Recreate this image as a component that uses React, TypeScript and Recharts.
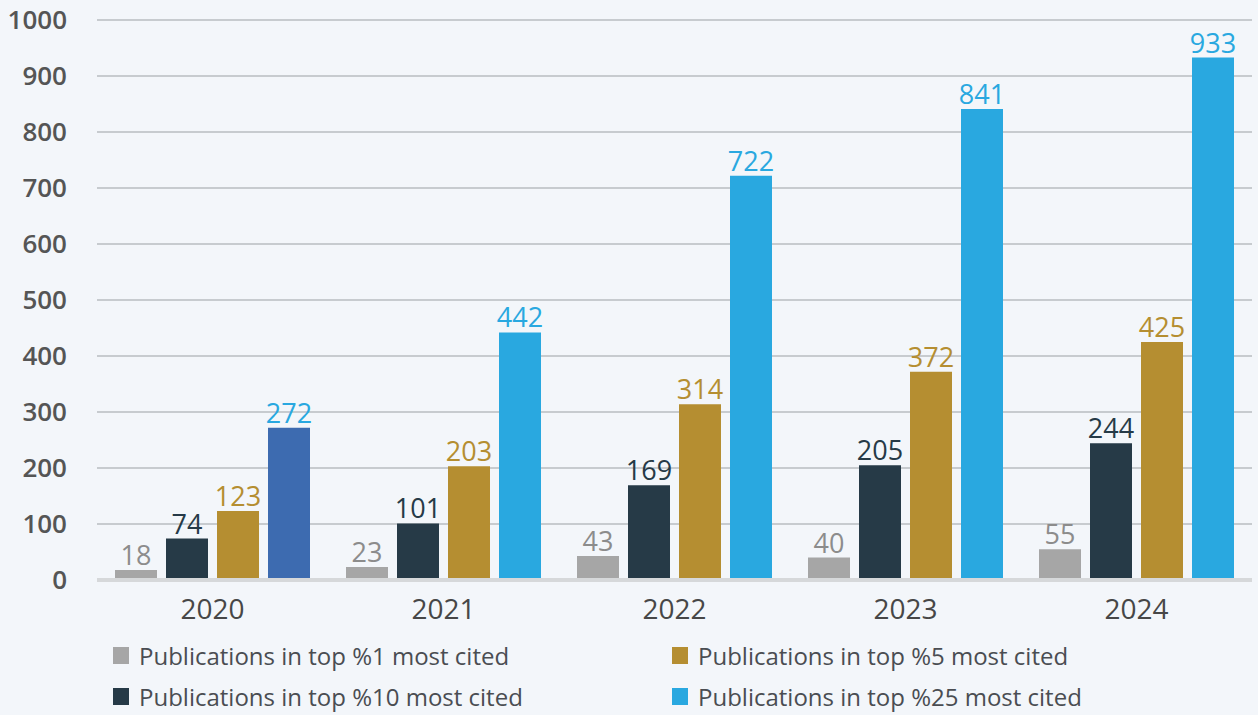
import { BarChart, Bar, XAxis, YAxis, CartesianGrid, Cell, LabelList } from 'recharts';

const years = ['2020', '2021', '2022', '2023', '2024'];
const top1 = [18, 23, 43, 40, 55];
const top10 = [74, 101, 169, 205, 244];
const top5 = [123, 203, 314, 372, 425];
const top25 = [272, 442, 722, 841, 933];
const yTicks = [0, 100, 200, 300, 400, 500, 600, 700, 800, 900, 1000];

const series = [
  { key: 'top1', name: 'Publications in top %1 most cited', color: '#a6a6a6', label: '#8c8c8c' },
  { key: 'top10', name: 'Publications in top %10 most cited', color: '#263a47', label: '#263a47' },
  { key: 'top5', name: 'Publications in top %5 most cited', color: '#b58e31', label: '#b58e31' },
  { key: 'top25', name: 'Publications in top %25 most cited', color: '#29a8e0', label: '#29a8e0' },
];

// first year of top25 is drawn in a darker blue in the original
const top25Colors = ['#3d6bb0', '#29a8e0', '#29a8e0', '#29a8e0', '#29a8e0'];

const data = years.map((year, i) => ({
  year,
  top1: top1[i],
  top10: top10[i],
  top5: top5[i],
  top25: top25[i],
}));

const font = '"Open Sans", "Noto Sans", sans-serif';

// legend order: two columns, top1 / top10 left, top5 / top25 right
const legendCols = [
  [series[0], series[1]],
  [series[2], series[3]],
];

export default function App() {
  return (
    <div
      style={{
        position: 'absolute',
        left: 0,
        top: 0,
        width: 1258,
        height: 715,
        background: '#f3f6fa',
        fontFamily: font,
        overflow: 'hidden',
      }}
    >
      <BarChart
        width={1258}
        height={630}
        data={data}
        margin={{ top: 20, right: 6, bottom: 0, left: 0 }}
        barCategoryGap={18}
        barGap={9}
      >
        <CartesianGrid vertical={false} stroke="#b9bcc0" strokeWidth={1.5} />
        <XAxis
          dataKey="year"
          height={50}
          tickLine={false}
          tickSize={0}
          tickMargin={19}
          axisLine={{ stroke: '#d6d8da', strokeWidth: 4 }}
          tick={{ fill: '#474747', fontSize: 28, fontWeight: 500, fontFamily: font }}
        />
        <YAxis
          width={97}
          domain={[0, 1000]}
          ticks={yTicks}
          interval={0}
          tickLine={false}
          axisLine={false}
          tickSize={0}
          tickMargin={30}
          tick={{ fill: '#555555', fontSize: 26, fontWeight: 600, fontFamily: font }}
        />
        {series.map((s) => (
          <Bar key={s.key} dataKey={s.key} name={s.name} fill={s.color} isAnimationActive={false}>
            {s.key === 'top25' &&
              top25Colors.map((c, i) => <Cell key={i} fill={c} />)}
            <LabelList
              dataKey={s.key}
              position="top"
              offset={5}
              fill={s.label}
              style={{ fontSize: 27, fontWeight: 500, fontFamily: font }}
            />
          </Bar>
        ))}
      </BarChart>

      {/* Leyenda */}
      <div style={{ position: 'absolute', top: 638, left: 113, display: 'flex' }}>
        {legendCols.map((col, ci) => (
          <div key={ci} style={{ width: ci === 0 ? 559 : 560, display: 'flex', flexDirection: 'column', gap: 7 }}>
            {col.map((s) => (
              <div key={s.key} style={{ display: 'flex', alignItems: 'center', gap: 10, height: 34 }}>
                <div style={{ width: 16, height: 17, background: s.color }} />
                <span style={{ fontSize: 24, fontWeight: 400, color: '#4a4d52' }}>{s.name}</span>
              </div>
            ))}
          </div>
        ))}
      </div>
    </div>
  );
}
